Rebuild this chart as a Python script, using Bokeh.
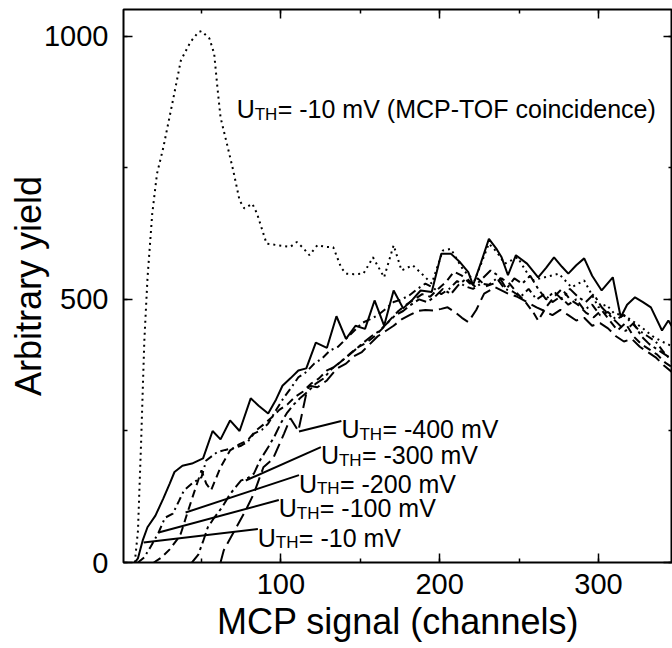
from bokeh.plotting import figure
from bokeh.models import LinearAxis, SingleIntervalTicker, Range1d, CustomJSTickFormatter
from bokeh.core.properties import value
from bokeh.embed import file_html
from bokeh.resources import INLINE

# ---------------- data ----------------
coinc_x = [8, 10, 12, 14, 16, 19, 22, 26, 32, 37, 43, 48, 50, 55, 58, 60, 62, 66, 70, 74, 77, 82, 85, 91, 98,
           106, 110, 114, 118, 123, 128, 133, 138, 141, 146, 152, 158, 165, 171, 176, 183, 189, 195, 202, 207,
           215, 222, 231, 236, 241, 249, 258, 266, 275, 283, 291, 300, 305, 310, 316, 321, 328, 334, 340, 347]
coinc_y = [0, 60, 230, 420, 540, 663, 739, 789, 878, 954, 989, 1008, 1010, 996, 967, 904, 846, 796, 745, 688, 673,
           682, 663, 606, 603, 600, 609, 598, 584, 603, 600, 599, 560, 549, 548, 549, 580, 542, 603, 555, 565, 548,
           530, 593, 596, 555, 536, 606, 590, 568, 580, 536, 542, 549, 523, 536, 485, 490, 473, 470, 460, 445, 430,
           420, 410]

th10_x = [8, 10, 13, 16, 21, 26, 30, 33, 38, 44, 51, 57, 62, 68, 74, 81, 86, 92, 97, 101, 106, 111, 116, 122, 129,
          135, 141, 147, 153, 159, 165, 171, 177, 183, 188, 195, 201, 207, 213, 218, 221, 226, 231, 236, 239, 243,
          248, 255, 262, 267, 272, 277, 281, 286, 291, 296, 302, 309, 314, 318, 323, 328, 333, 340, 344, 347]
th10_y = [0, 8, 42, 67, 89, 122, 150, 172, 184, 188, 198, 250, 234, 270, 250, 312, 298, 283, 310, 336, 350, 365,
          369, 418, 408, 468, 425, 450, 444, 498, 450, 517, 483, 500, 517, 514, 587, 587, 570, 552, 527, 570, 615,
          595, 580, 546, 584, 568, 542, 560, 580, 562, 549, 565, 578, 545, 517, 542, 466, 490, 504, 495, 485, 441,
          460, 445]

th100_x = [10, 14, 18, 23, 27, 32, 36, 39, 44, 50, 53, 60, 65, 70, 75, 79, 83, 88, 92, 97, 102, 106, 111, 116, 121,
           126, 131, 136, 141, 146, 151, 156, 161, 166, 171, 176, 181, 186, 191, 196, 201, 206, 211, 216, 221, 226,
           231, 236, 241, 246, 251, 256, 261, 266, 271, 276, 281, 286, 291, 296, 301, 306, 311, 316, 321, 326, 331,
           336, 341, 347]
th100_y = [0, 10, 30, 57, 85, 93, 118, 137, 150, 162, 194, 210, 214, 217, 222, 229, 245, 252, 264, 290, 314, 330,
           352, 362, 378, 388, 403, 410, 425, 440, 455, 462, 470, 482, 495, 500, 508, 520, 530, 522, 510, 520, 535,
           525, 520, 530, 528, 540, 520, 515, 505, 520, 500, 510, 495, 505, 490, 500, 480, 490, 470, 476, 462, 470,
           455, 440, 430, 420, 400, 380]

th200_x = [20, 25, 30, 35, 37, 41, 45, 50, 53, 56, 62, 68, 74, 79, 84, 89, 94, 99, 104, 109, 114, 119, 124, 129,
           134, 139, 144, 149, 154, 159, 164, 169, 174, 179, 184, 189, 194, 199, 204, 209, 214, 219, 224, 229, 234,
           239, 244, 249, 254, 259, 262, 267, 272, 277, 282, 287, 292, 297, 302, 307, 312, 317, 322, 327, 332, 337,
           342, 347]
th200_y = [0, 10, 25, 45, 55, 93, 130, 175, 150, 137, 181, 213, 225, 232, 250, 262, 275, 290, 300, 315, 325, 340,
           350, 365, 372, 385, 398, 410, 418, 430, 445, 462, 478, 490, 500, 510, 505, 520, 533, 553, 545, 530, 540,
           525, 530, 540, 530, 511, 495, 475, 460, 485, 505, 520, 500, 490, 475, 466, 480, 460, 441, 455, 430, 415,
           405, 395, 380, 370]

th300_x = [44, 48, 51, 54, 58, 63, 68, 72, 75, 79, 83, 87, 92, 96, 100, 104, 108, 112, 117, 122, 127, 132, 137, 142,
           147, 152, 157, 162, 167, 172, 177, 182, 187, 192, 197, 202, 207, 212, 217, 222, 227, 232, 237, 242, 247,
           252, 257, 262, 267, 272, 277, 282, 287, 292, 297, 302, 307, 312, 317, 322, 327, 332, 337, 342, 347]
th300_y = [0, 15, 40, 67, 85, 105, 130, 145, 156, 160, 169, 195, 219, 240, 265, 285, 300, 312, 325, 340, 350, 368,
           380, 392, 405, 418, 430, 440, 455, 470, 478, 490, 500, 495, 505, 520, 510, 528, 540, 525, 540, 555, 545,
           520, 540, 530, 545, 520, 500, 515, 500, 520, 505, 495, 510, 485, 470, 455, 440, 455, 430, 415, 405, 395,
           385]

th400_x = [62, 64, 68, 72, 78, 83, 89, 95, 102, 106, 111, 116, 118, 123, 129, 135, 141, 146, 151, 156, 161, 166,
           171, 176, 181, 186, 191, 196, 201, 205, 210, 214, 218, 223, 228, 235, 243, 249, 255, 261, 266, 271, 276,
           281, 286, 291, 296, 301, 306, 311, 316, 321, 326, 331, 336, 341, 347]
th400_y = [0, 23, 45, 67, 100, 131, 181, 197, 245, 274, 250, 321, 336, 333, 346, 368, 378, 392, 400, 415, 430, 440,
           450, 462, 470, 478, 480, 479, 482, 485, 475, 465, 457, 480, 511, 523, 511, 505, 495, 485, 478, 470, 480,
           470, 460, 465, 450, 455, 445, 430, 420, 425, 410, 400, 390, 375, 360]

threshold_labels = ["= -400 mV", "= -300 mV", "= -200 mV", "= -100 mV", "= -10 mV"]
coinc_label = "= -10 mV (MCP-TOF coincidence)"

# label anchor positions (data coords) and leader targets
lab_x = [138.1, 125.2, 111.4, 98.7, 85.5]
lab_y = [253.0, 203.4, 150.0, 102.7, 47.5]
lead_x1 = [111.4, 77.9, 40.0, 23.0, 13.6]
lead_y1 = [249.0, 155.9, 95.0, 57.0, 38.0]
coinc_lab_x, coinc_lab_y = 72.2, 861.0

FONT = "Liberation Sans"

p = figure(width=672, height=648, output_backend="svg", toolbar_location=None,
           x_range=Range1d(0.9, 346.6), y_range=Range1d(0, 1051),
           min_border_left=123, min_border_top=9, min_border_bottom=86, min_border_right=0,
           x_axis_label="MCP signal (channels)", y_axis_label="Arbitrary yield")
p.background_fill_color = "white"
p.border_fill_color = "white"
p.grid.visible = False
p.outline_line_color = "black"
p.outline_line_width = 2

p.xaxis.ticker = SingleIntervalTicker(interval=100, num_minor_ticks=2)
p.yaxis.ticker = SingleIntervalTicker(interval=500, num_minor_ticks=2)

for ax in [p.xaxis[0], p.yaxis[0]]:
    ax.axis_line_color = None
    ax.major_tick_in = 9
    ax.major_tick_out = 0
    ax.minor_tick_in = 4
    ax.minor_tick_out = 0
    ax.major_tick_line_width = 1.5
    ax.minor_tick_line_width = 1.5
    ax.major_label_text_font = FONT
    ax.major_label_text_font_size = "29px"
    ax.major_label_text_color = "black"
    ax.axis_label_text_font = FONT
    ax.axis_label_text_font_size = "36px"
    ax.axis_label_text_font_style = "normal"
    ax.axis_label_text_color = "black"
p.xaxis.major_label_standoff = 11
p.xaxis.axis_label_standoff = 4
p.yaxis.major_label_standoff = 15
p.yaxis.axis_label_standoff = -8

blank = CustomJSTickFormatter(code="return '';")
top = LinearAxis(ticker=SingleIntervalTicker(interval=100, num_minor_ticks=2), formatter=blank)
right = LinearAxis(ticker=SingleIntervalTicker(interval=500, num_minor_ticks=2), formatter=blank)
for ax in [top, right]:
    ax.axis_line_color = None
    ax.major_tick_in = 9
    ax.major_tick_out = 0
    ax.minor_tick_in = 4
    ax.minor_tick_out = 0
    ax.major_tick_line_width = 1.5
    ax.minor_tick_line_width = 1.5
    ax.major_label_standoff = 0
p.add_layout(top, "above")
p.add_layout(right, "right")

LW = 2
p.line(coinc_x, coinc_y, line_color="black", line_width=LW, line_dash="2 4")
p.line(th10_x, th10_y, line_color="black", line_width=LW)
p.line(th100_x, th100_y, line_color="black", line_width=LW, line_dash="8 4 2 4")
p.line(th200_x, th200_y, line_color="black", line_width=LW, line_dash="8 5")
p.line(th300_x, th300_y, line_color="black", line_width=LW, line_dash="11 4 3 4")
p.line(th400_x, th400_y, line_color="black", line_width=LW, line_dash="14 6")

# leader lines: from just left of each label to the curve
p.segment(x0=lab_x, y0=[y + 16 for y in lab_y], x1=lead_x1, y1=lead_y1, line_color="black", line_width=2)

MAIN = "25px"
SUB = "17px"
all_x = lab_x + [coinc_lab_x]
all_y = lab_y + [coinc_lab_y]
all_rest = threshold_labels + [coinc_label]
p.text(x=all_x, y=all_y, text=["U"] * len(all_x), text_font=value(FONT), text_font_size=MAIN,
       text_baseline="alphabetic", text_align="left", text_color="black")
p.text(x=all_x, y=all_y, text=["TH"] * len(all_x), text_font=value(FONT), text_font_size=SUB,
       text_baseline="alphabetic", text_align="left", text_color="black", x_offset=18, y_offset=5)
p.text(x=all_x, y=all_y, text=all_rest, text_font=value(FONT), text_font_size=MAIN,
       text_baseline="alphabetic", text_align="left", text_color="black", x_offset=41)

open("out.html", "w").write(file_html(p, INLINE))
